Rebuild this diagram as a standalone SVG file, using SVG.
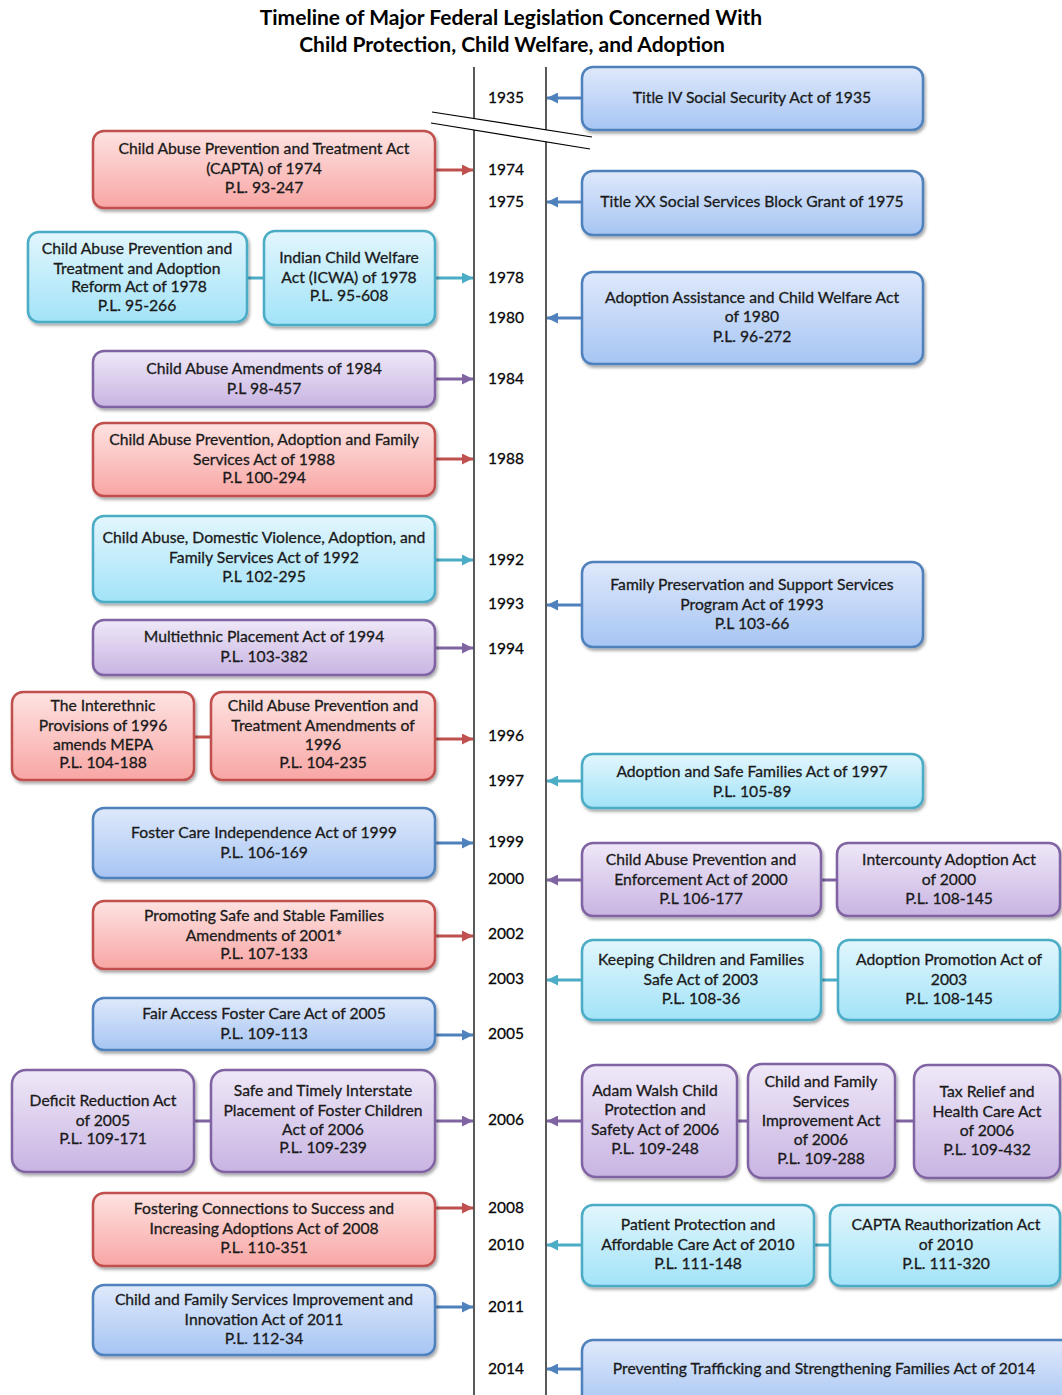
<svg xmlns="http://www.w3.org/2000/svg" width="1062" height="1395" viewBox="0 0 1062 1395">
<defs>
<linearGradient id="gRed" x1="0" y1="0" x2="0" y2="1"><stop offset="0" stop-color="#fde3e2"/><stop offset="1" stop-color="#f8a6a4"/></linearGradient>
<linearGradient id="gBlue" x1="0" y1="0" x2="0" y2="1"><stop offset="0" stop-color="#dfe9fb"/><stop offset="1" stop-color="#a6c5f3"/></linearGradient>
<linearGradient id="gPurple" x1="0" y1="0" x2="0" y2="1"><stop offset="0" stop-color="#efe8f8"/><stop offset="1" stop-color="#c8b4e2"/></linearGradient>
<linearGradient id="gCyan" x1="0" y1="0" x2="0" y2="1"><stop offset="0" stop-color="#e2f6fd"/><stop offset="1" stop-color="#a2e3f8"/></linearGradient>
<filter id="sh" x="-10%" y="-10%" width="120%" height="130%"><feDropShadow dx="1.5" dy="2.5" stdDeviation="1.8" flood-color="#000" flood-opacity="0.35"/></filter>
<marker id="aRed" markerUnits="userSpaceOnUse" markerWidth="11" markerHeight="11" refX="11" refY="5.5" orient="auto"><path d="M0,0 L11,5.5 L0,11 z" fill="#c0504d"/></marker>
<marker id="aBlue" markerUnits="userSpaceOnUse" markerWidth="11" markerHeight="11" refX="11" refY="5.5" orient="auto"><path d="M0,0 L11,5.5 L0,11 z" fill="#4f81bd"/></marker>
<marker id="aPurple" markerUnits="userSpaceOnUse" markerWidth="11" markerHeight="11" refX="11" refY="5.5" orient="auto"><path d="M0,0 L11,5.5 L0,11 z" fill="#8064a2"/></marker>
<marker id="aCyan" markerUnits="userSpaceOnUse" markerWidth="11" markerHeight="11" refX="11" refY="5.5" orient="auto"><path d="M0,0 L11,5.5 L0,11 z" fill="#4bacc6"/></marker>
</defs>
<style>
text{font-family:Lato,"Liberation Sans",sans-serif;font-size:15.7px;fill:#1a1a1a;stroke:#1a1a1a;stroke-width:0.3;text-anchor:middle}
.title{font-size:21px;font-weight:bold;fill:#000;stroke:none}
.yr{font-size:15.5px;fill:#000}
rect{stroke-width:2.5;filter:url(#sh)}
.red{fill:url(#gRed);stroke:#c0504d}
.blue{fill:url(#gBlue);stroke:#4f81bd}
.purple{fill:url(#gPurple);stroke:#8064a2}
.cyan{fill:url(#gCyan);stroke:#4bacc6}
.c{stroke-width:3;fill:none}
.cr{stroke:#c0504d}.cb{stroke:#4f81bd}.cp{stroke:#8064a2}.cc{stroke:#4bacc6}
.axis{stroke:#000;stroke-width:1.3}
</style>
<rect width="1062" height="1395" fill="#fff" style="filter:none;stroke:none"/>
<g id="title">
<text class="title" x="511" y="25">Timeline of Major Federal Legislation Concerned With</text>
<text class="title" x="512" y="52">Child Protection, Child Welfare, and Adoption</text>
</g>
<g id="timeline">
<line class="axis" x1="474" y1="67" x2="474" y2="1395"/>
<line class="axis" x1="546" y1="67" x2="546" y2="1395"/>
<polygon points="432,112 592,137 590,149 431,123" fill="#fff"/>
<line x1="432" y1="112" x2="592" y2="137" stroke="#000" stroke-width="1.2"/>
<line x1="431" y1="123" x2="590" y2="149" stroke="#000" stroke-width="1.2"/>
<text class="yr" x="506" y="103">1935</text>
<text class="yr" x="506" y="175">1974</text>
<text class="yr" x="506" y="207">1975</text>
<text class="yr" x="506" y="283">1978</text>
<text class="yr" x="506" y="323">1980</text>
<text class="yr" x="506" y="384">1984</text>
<text class="yr" x="506" y="464">1988</text>
<text class="yr" x="506" y="565">1992</text>
<text class="yr" x="506" y="609">1993</text>
<text class="yr" x="506" y="654">1994</text>
<text class="yr" x="506" y="741">1996</text>
<text class="yr" x="506" y="786">1997</text>
<text class="yr" x="506" y="847">1999</text>
<text class="yr" x="506" y="884">2000</text>
<text class="yr" x="506" y="939">2002</text>
<text class="yr" x="506" y="984">2003</text>
<text class="yr" x="506" y="1039">2005</text>
<text class="yr" x="506" y="1125">2006</text>
<text class="yr" x="506" y="1213">2008</text>
<text class="yr" x="506" y="1250">2010</text>
<text class="yr" x="506" y="1312">2011</text>
<text class="yr" x="506" y="1374">2014</text>
</g>
<g id="connectors">
<line class="c cb" x1="582" y1="98" x2="547" y2="98" marker-end="url(#aBlue)"/>
<line class="c cr" x1="436" y1="170" x2="473" y2="170" marker-end="url(#aRed)"/>
<line class="c cb" x1="582" y1="202" x2="547" y2="202" marker-end="url(#aBlue)"/>
<line class="c cc" x1="247" y1="278" x2="264" y2="278"/>
<line class="c cc" x1="436" y1="278" x2="473" y2="278" marker-end="url(#aCyan)"/>
<line class="c cb" x1="582" y1="318" x2="547" y2="318" marker-end="url(#aBlue)"/>
<line class="c cp" x1="436" y1="379" x2="473" y2="379" marker-end="url(#aPurple)"/>
<line class="c cr" x1="436" y1="459" x2="473" y2="459" marker-end="url(#aRed)"/>
<line class="c cc" x1="436" y1="560" x2="473" y2="560" marker-end="url(#aCyan)"/>
<line class="c cb" x1="582" y1="605" x2="547" y2="605" marker-end="url(#aBlue)"/>
<line class="c cp" x1="436" y1="648" x2="473" y2="648" marker-end="url(#aPurple)"/>
<line class="c cr" x1="194" y1="737" x2="211" y2="737"/>
<line class="c cr" x1="436" y1="739" x2="473" y2="739" marker-end="url(#aRed)"/>
<line class="c cc" x1="582" y1="781" x2="547" y2="781" marker-end="url(#aCyan)"/>
<line class="c cb" x1="436" y1="843" x2="473" y2="843" marker-end="url(#aBlue)"/>
<line class="c cp" x1="582" y1="880" x2="547" y2="880" marker-end="url(#aPurple)"/>
<line class="c cp" x1="821" y1="880" x2="837" y2="880"/>
<line class="c cr" x1="436" y1="936" x2="473" y2="936" marker-end="url(#aRed)"/>
<line class="c cc" x1="582" y1="980" x2="547" y2="980" marker-end="url(#aCyan)"/>
<line class="c cc" x1="821" y1="980" x2="838" y2="980"/>
<line class="c cb" x1="436" y1="1035" x2="473" y2="1035" marker-end="url(#aBlue)"/>
<line class="c cp" x1="194" y1="1121" x2="211" y2="1121"/>
<line class="c cp" x1="436" y1="1121" x2="473" y2="1121" marker-end="url(#aPurple)"/>
<line class="c cp" x1="582" y1="1121" x2="547" y2="1121" marker-end="url(#aPurple)"/>
<line class="c cp" x1="737" y1="1121" x2="748" y2="1121"/>
<line class="c cp" x1="895" y1="1121" x2="914" y2="1121"/>
<line class="c cr" x1="436" y1="1208" x2="473" y2="1208" marker-end="url(#aRed)"/>
<line class="c cc" x1="582" y1="1245" x2="547" y2="1245" marker-end="url(#aCyan)"/>
<line class="c cc" x1="814" y1="1245" x2="830" y2="1245"/>
<line class="c cb" x1="436" y1="1307" x2="473" y2="1307" marker-end="url(#aBlue)"/>
<line class="c cb" x1="582" y1="1369" x2="547" y2="1369" marker-end="url(#aBlue)"/>
</g>
<g id="n1935"><rect class="blue" x="582" y="67" width="341" height="63" rx="11"/><text x="752" y="103">Title IV Social Security Act of 1935</text></g>
<g id="n1974"><rect class="red" x="93" y="131" width="342" height="77" rx="11"/><text x="264" y="154">Child Abuse Prevention and Treatment Act</text><text x="264" y="174">(CAPTA) of 1974</text><text x="264" y="193">P.L. 93-247</text></g>
<g id="n1975"><rect class="blue" x="582" y="171" width="341" height="64" rx="11"/><text x="752" y="207">Title XX Social Services Block Grant of 1975</text></g>
<g id="n1978a"><rect class="cyan" x="28" y="232" width="219" height="90" rx="11"/><text x="137" y="254">Child Abuse Prevention and</text><text x="137" y="274">Treatment and Adoption</text><text x="139" y="292">Reform Act of 1978</text><text x="137" y="311">P.L. 95-266</text></g>
<g id="n1978b"><rect class="cyan" x="264" y="231" width="171" height="94" rx="11"/><text x="349" y="263">Indian Child Welfare</text><text x="349" y="283">Act (ICWA) of 1978</text><text x="349" y="301">P.L. 95-608</text></g>
<g id="n1980"><rect class="blue" x="582" y="272" width="341" height="92" rx="11"/><text x="752" y="303">Adoption Assistance and Child Welfare Act</text><text x="752" y="322">of 1980</text><text x="752" y="342">P.L. 96-272</text></g>
<g id="n1984"><rect class="purple" x="93" y="351" width="342" height="56" rx="11"/><text x="264" y="374">Child Abuse Amendments of 1984</text><text x="264" y="394">P.L 98-457</text></g>
<g id="n1988"><rect class="red" x="93" y="423" width="342" height="73" rx="11"/><text x="264" y="445">Child Abuse Prevention, Adoption and Family</text><text x="264" y="465">Services Act of 1988</text><text x="264" y="483">P.L 100-294</text></g>
<g id="n1992"><rect class="cyan" x="93" y="516" width="342" height="86" rx="11"/><text x="264" y="543">Child Abuse, Domestic Violence, Adoption, and</text><text x="264" y="563">Family Services Act of 1992</text><text x="264" y="582">P.L 102-295</text></g>
<g id="n1993"><rect class="blue" x="582" y="562" width="341" height="85" rx="11"/><text x="752" y="590">Family Preservation and Support Services</text><text x="752" y="610">Program Act of 1993</text><text x="752" y="629">P.L 103-66</text></g>
<g id="n1994"><rect class="purple" x="93" y="620" width="342" height="55" rx="11"/><text x="264" y="642">Multiethnic Placement Act of 1994</text><text x="264" y="662">P.L. 103-382</text></g>
<g id="n1996a"><rect class="red" x="12" y="692" width="182" height="88" rx="11"/><text x="103" y="711">The Interethnic</text><text x="103" y="731">Provisions of 1996</text><text x="103" y="750">amends MEPA</text><text x="103" y="768">P.L. 104-188</text></g>
<g id="n1996b"><rect class="red" x="211" y="692" width="224" height="88" rx="11"/><text x="323" y="711">Child Abuse Prevention and</text><text x="323" y="731">Treatment Amendments of</text><text x="323" y="750">1996</text><text x="323" y="768">P.L. 104-235</text></g>
<g id="n1997"><rect class="cyan" x="582" y="754" width="341" height="54" rx="11"/><text x="752" y="777">Adoption and Safe Families Act of 1997</text><text x="752" y="797">P.L. 105-89</text></g>
<g id="n1999"><rect class="blue" x="93" y="808" width="342" height="70" rx="11"/><text x="264" y="838">Foster Care Independence Act of 1999</text><text x="264" y="858">P.L. 106-169</text></g>
<g id="n2000a"><rect class="purple" x="582" y="843" width="239" height="73" rx="11"/><text x="701" y="865">Child Abuse Prevention and</text><text x="701" y="885">Enforcement Act of 2000</text><text x="701" y="904">P.L 106-177</text></g>
<g id="n2000b"><rect class="purple" x="837" y="843" width="223" height="73" rx="11"/><text x="949" y="865">Intercounty Adoption Act</text><text x="949" y="885">of 2000</text><text x="949" y="904">P.L. 108-145</text></g>
<g id="n2001"><rect class="red" x="93" y="901" width="342" height="68" rx="11"/><text x="264" y="921">Promoting Safe and Stable Families</text><text x="264" y="941">Amendments of 2001*</text><text x="264" y="959">P.L. 107-133</text></g>
<g id="n2003a"><rect class="cyan" x="582" y="940" width="239" height="80" rx="11"/><text x="701" y="965">Keeping Children and Families</text><text x="701" y="985">Safe Act of 2003</text><text x="701" y="1004">P.L. 108-36</text></g>
<g id="n2003b"><rect class="cyan" x="838" y="940" width="222" height="80" rx="11"/><text x="949" y="965">Adoption Promotion Act of</text><text x="949" y="985">2003</text><text x="949" y="1004">P.L. 108-145</text></g>
<g id="n2005"><rect class="blue" x="93" y="998" width="342" height="52" rx="11"/><text x="264" y="1019">Fair Access Foster Care Act of 2005</text><text x="264" y="1039">P.L. 109-113</text></g>
<g id="n2006a"><rect class="purple" x="12" y="1070" width="182" height="102" rx="14"/><text x="103" y="1106">Deficit Reduction Act</text><text x="103" y="1126">of 2005</text><text x="103" y="1144">P.L. 109-171</text></g>
<g id="n2006b"><rect class="purple" x="211" y="1070" width="224" height="102" rx="14"/><text x="323" y="1096">Safe and Timely Interstate</text><text x="323" y="1116">Placement of Foster Children</text><text x="323" y="1135">Act of 2006</text><text x="323" y="1153">P.L. 109-239</text></g>
<g id="n2006c"><rect class="purple" x="582" y="1065" width="155" height="112" rx="14"/><text x="655" y="1096">Adam Walsh Child</text><text x="655" y="1115">Protection and</text><text x="655" y="1135">Safety Act of 2006</text><text x="655" y="1154">P.L. 109-248</text></g>
<g id="n2006d"><rect class="purple" x="748" y="1064" width="147" height="114" rx="14"/><text x="821" y="1087">Child and Family</text><text x="821" y="1107">Services</text><text x="821" y="1126">Improvement Act</text><text x="821" y="1145">of 2006</text><text x="821" y="1164">P.L. 109-288</text></g>
<g id="n2006e"><rect class="purple" x="914" y="1065" width="146" height="113" rx="14"/><text x="987" y="1097">Tax Relief and</text><text x="987" y="1117">Health Care Act</text><text x="987" y="1136">of 2006</text><text x="987" y="1155">P.L. 109-432</text></g>
<g id="n2008"><rect class="red" x="93" y="1193" width="342" height="73" rx="11"/><text x="264" y="1214">Fostering Connections to Success and</text><text x="264" y="1234">Increasing Adoptions Act of 2008</text><text x="264" y="1253">P.L. 110-351</text></g>
<g id="n2010a"><rect class="cyan" x="582" y="1205" width="232" height="81" rx="11"/><text x="698" y="1230">Patient Protection and</text><text x="698" y="1250">Affordable Care Act of 2010</text><text x="698" y="1269">P.L. 111-148</text></g>
<g id="n2010b"><rect class="cyan" x="830" y="1205" width="230" height="81" rx="11"/><text x="946" y="1230">CAPTA Reauthorization Act</text><text x="946" y="1250">of 2010</text><text x="946" y="1269">P.L. 111-320</text></g>
<g id="n2011"><rect class="blue" x="93" y="1285" width="342" height="70" rx="11"/><text x="264" y="1305">Child and Family Services Improvement and</text><text x="264" y="1325">Innovation Act of 2011</text><text x="264" y="1344">P.L. 112-34</text></g>
<g id="n2014"><rect class="blue" x="582" y="1340" width="490" height="70" rx="11"/><text x="824" y="1374">Preventing Trafficking and Strengthening Families Act of 2014</text></g>
</svg>
